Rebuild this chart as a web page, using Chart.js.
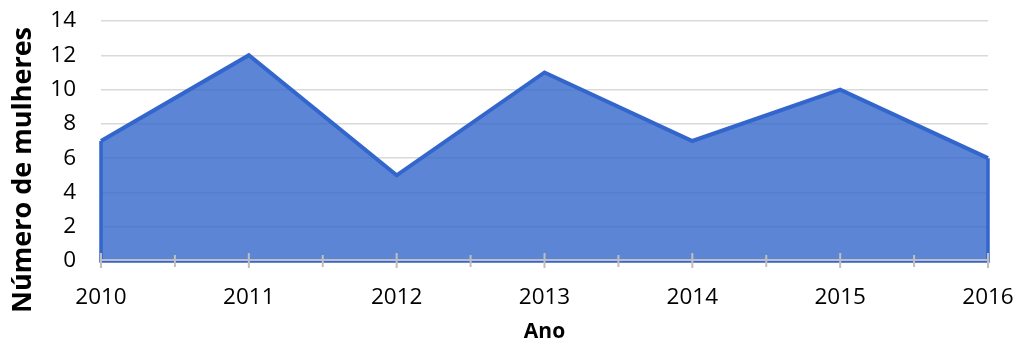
<!DOCTYPE html>
<html>
<head>
<meta charset="utf-8">
<script src="https://cdn.jsdelivr.net/npm/chart.js@4/dist/chart.umd.min.js"></script>
<style>
  html, body { margin: 0; padding: 0; background: #fff; }
  #wrap { width: 1019px; height: 345px; }
</style>
</head>
<body>
<div id="wrap"><canvas id="chartMulheres" width="1019" height="345"></canvas></div>
<script>
// dados
const anos = ["2010", "2011", "2012", "2013", "2014", "2015", "2016"];
const mulheres = [7, 12, 5, 11, 7, 10, 6];
const yTicks = [0, 2, 4, 6, 8, 10, 12, 14];

const FONT = "'Open Sans', sans-serif";
const AZUL = "#3366cc";

// eixo X desenhado à mão (linha + marcas maiores e menores) e título do eixo Y
const eixoPlugin = {
  id: "eixo",
  afterDatasetsDraw(chart) {
    const { ctx, chartArea } = chart;
    const x = chart.scales.x;
    const y = chart.scales.y;
    const y0 = y.getPixelForValue(0);
    const pts = chart.getDatasetMeta(0).data;

    // contorno da área (laterais e base)
    ctx.save();
    ctx.strokeStyle = AZUL;
    ctx.lineWidth = 3.5;
    ctx.lineJoin = "miter";
    ctx.beginPath();
    ctx.moveTo(pts[0].x, pts[0].y);
    ctx.lineTo(pts[0].x, y0);
    ctx.lineTo(pts[pts.length - 1].x, y0);
    ctx.lineTo(pts[pts.length - 1].x, pts[pts.length - 1].y);
    ctx.stroke();

    // linha do eixo
    ctx.strokeStyle = "#bfbfbf";
    ctx.lineWidth = 2;
    ctx.beginPath();
    ctx.moveTo(chartArea.left, y0 - 1);
    ctx.lineTo(chartArea.right, y0 - 1);
    ctx.stroke();

    // marcas
    for (let i = 0; i < anos.length; i++) {
      const px = x.getPixelForValue(i);
      ctx.beginPath();
      ctx.moveTo(px, y0 - 8);
      ctx.lineTo(px, y0 + 7);
      ctx.stroke();
      if (i < anos.length - 1) {
        const mx = (px + x.getPixelForValue(i + 1)) / 2;
        ctx.beginPath();
        ctx.moveTo(mx, y0 - 6);
        ctx.lineTo(mx, y0 + 6);
        ctx.stroke();
      }
    }
    ctx.restore();
  },
  afterDraw(chart) {
    const ctx = chart.ctx;
    ctx.save();
    ctx.translate(23, 170);
    ctx.rotate(-Math.PI / 2);
    ctx.font = "bold 27px " + FONT;
    ctx.fillStyle = "#000";
    ctx.textAlign = "center";
    ctx.textBaseline = "middle";
    ctx.fillText("Número de mulheres", 0, 0);
    ctx.restore();
  }
};

new Chart(document.getElementById("chartMulheres"), {
  type: "line",
  data: {
    labels: anos,
    datasets: [{
      data: mulheres,
      fill: "origin",
      backgroundColor: "rgba(51, 102, 204, 0.8)",
      borderColor: AZUL,
      borderWidth: 4,
      borderJoinStyle: "miter",
      pointRadius: 0,
      tension: 0
    }]
  },
  options: {
    responsive: false,
    animation: false,
    layout: { padding: { left: 0, right: 31, top: 21, bottom: 0 } },
    plugins: {
      legend: { display: false },
      tooltip: { enabled: false }
    },
    scales: {
      x: {
        offset: false,
        grid: { display: false },
        border: { display: false },
        ticks: {
          color: "#000",
          font: { family: FONT, size: 22.5 },
          padding: 15,
          maxRotation: 0
        },
        title: {
          display: true,
          text: "Ano",
          color: "#000",
          font: { family: FONT, size: 21, weight: "bold" },
          padding: { top: 12, bottom: 0 }
        },
        afterFit(scale) {
          scale.height = 84;
          scale.paddingLeft = 0;
          scale.paddingRight = 0;
        }
      },
      y: {
        min: 0,
        max: 14,
        afterBuildTicks(scale) { scale.ticks = yTicks.map(v => ({ value: v })); },
        grid: { color: "#d9d9d9", lineWidth: 1.5, drawTicks: false },
        border: { display: false },
        ticks: {
          color: "#000",
          font: { family: FONT, size: 22.5 },
          padding: 25
        },
        afterFit(scale) {
          scale.width = 101;
          scale.paddingTop = 0;
          scale.paddingBottom = 0;
        }
      }
    }
  },
  plugins: [eixoPlugin]
});
</script>
</body>
</html>
